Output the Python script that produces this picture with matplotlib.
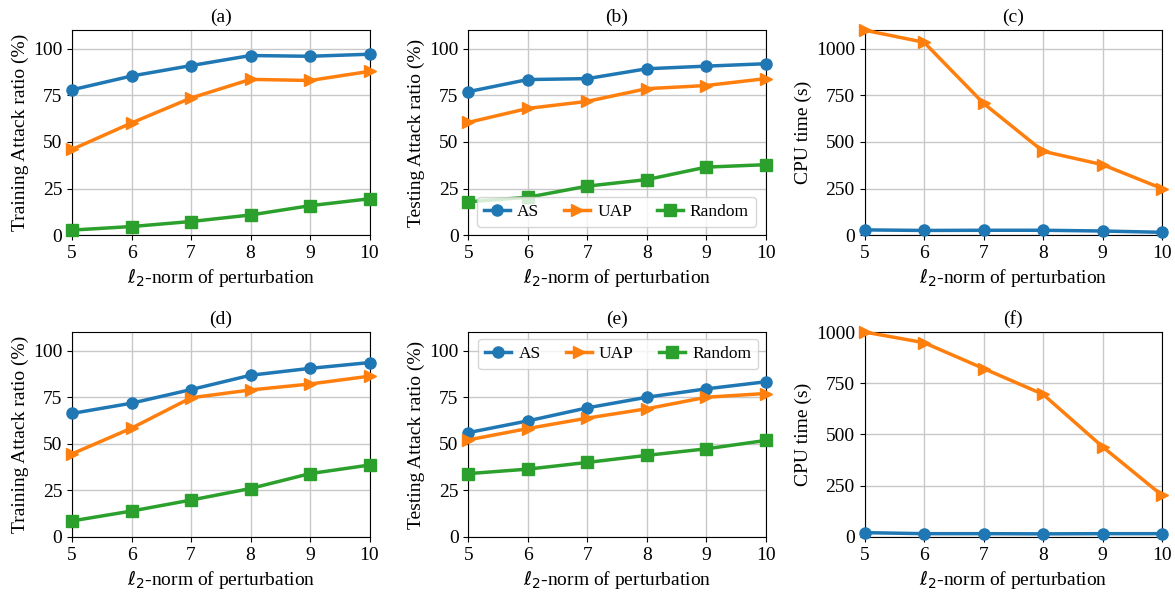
import matplotlib
matplotlib.use("Agg")
import matplotlib.pyplot as plt

plt.rcParams['font.family'] = ['Liberation Serif', 'DejaVu Serif']
plt.rcParams['mathtext.fontset'] = 'dejavusans'

x = [5, 6, 7, 8, 9, 10]

# (a) training attack ratio
a_as = [78.0, 85.4, 91.0, 96.4, 96.0, 97.1]
a_uap = [46.0, 60.2, 73.6, 83.6, 83.0, 87.9]
a_rand = [2.7, 4.6, 7.3, 10.8, 15.8, 19.5]
# (b) testing attack ratio
b_as = [77.0, 83.5, 84.0, 89.3, 90.7, 92.0]
b_uap = [60.5, 68.0, 71.8, 78.6, 80.3, 84.0]
b_rand = [17.9, 20.3, 26.3, 29.8, 36.5, 37.8]
# (c) CPU time
c_as = [28, 25, 26, 26, 22, 15]
c_uap = [1100, 1035, 707, 450, 378, 250]
# (d) training attack ratio
d_as = [66.3, 71.8, 79.1, 86.8, 90.5, 93.6]
d_uap = [44.6, 58.4, 74.7, 78.9, 82.1, 86.3]
d_rand = [8.6, 13.9, 19.8, 26.0, 34.0, 38.6]
# (e) testing attack ratio
e_as = [56.0, 62.3, 69.3, 75.0, 79.5, 83.3]
e_uap = [52.1, 58.2, 63.8, 68.8, 75.0, 77.0]
e_rand = [34.0, 36.4, 40.0, 43.8, 47.3, 51.8]
# (f) CPU time
f_as = [21, 16, 16, 15, 16, 16]
f_uap = [1000, 948, 822, 696, 440, 203]

titles = ['(a)', '(b)', '(c)', '(d)', '(e)', '(f)']
ylabels = ['Training Attack ratio (%)', 'Testing Attack ratio (%)', 'CPU time (s)'] * 2
xlabel = r'$\ell_2$-norm of perturbation'
labels = ['AS', 'UAP', 'Random']
colors = ['#1f77b4', '#ff7f0e', '#2ca02c']
markers = ['o', '>', 's']

panels = [
    [a_as, a_uap, a_rand],
    [b_as, b_uap, b_rand],
    [c_as, c_uap],
    [d_as, d_uap, d_rand],
    [e_as, e_uap, e_rand],
    [f_as, f_uap],
]

fig, axes = plt.subplots(2, 3, figsize=(11.75, 5.92), dpi=100)
fig.subplots_adjust(left=0.0613, right=0.989, top=0.949, bottom=0.093,
                    wspace=0.332, hspace=0.473)

fs = 14
for i, ax in enumerate(axes.flat):
    for j, series in enumerate(panels[i]):
        ax.plot(x, series, color=colors[j], marker=markers[j], lw=2.5,
                markersize=8, label=labels[j], clip_on=False, zorder=3)
    ax.set_xlim(5, 10)
    ax.set_xticks(x)
    if i == 2:
        ax.set_ylim(0, 1100)
        ax.set_yticks([0, 250, 500, 750, 1000])
    elif i == 5:
        ax.set_ylim(0, 1000)
        ax.set_yticks([0, 250, 500, 750, 1000])
    else:
        ax.set_ylim(0, 110)
        ax.set_yticks([0, 25, 50, 75, 100])
    ax.grid(True, color='#c8c8c8', lw=1.0)
    ax.set_axisbelow(True)
    ax.set_title(titles[i], fontsize=fs, pad=6)
    ax.set_ylabel(ylabels[i], fontsize=fs, labelpad=3)
    ax.set_xlabel(xlabel, fontsize=fs, labelpad=3)
    ax.tick_params(labelsize=fs)

leg_kw = dict(ncol=3, fontsize=12.5, mode='expand', handlelength=1.5,
              borderaxespad=0.0, framealpha=0.8, handletextpad=0.4)
axes[0, 1].legend(loc='lower left', bbox_to_anchor=(0.03, 0.04, 0.936, 0.2), **leg_kw)
axes[1, 1].legend(loc='upper left', bbox_to_anchor=(0.034, 0.7, 0.94, 0.266), **leg_kw)

fig.savefig('out.png', dpi=100)
